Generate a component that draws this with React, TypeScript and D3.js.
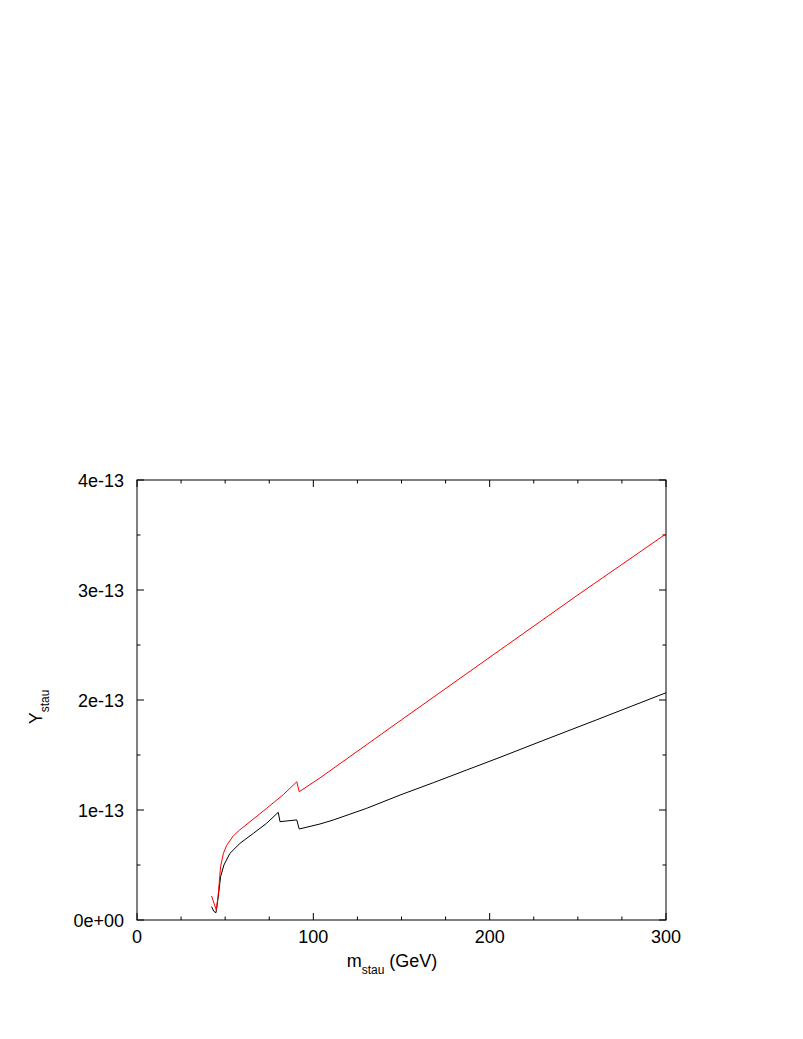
import React, {useEffect, useRef} from 'react'
import * as d3 from 'd3'

// values, Y in units of 1e-13
const redMass = [42.3, 45.0, 46.1, 47.4, 49.0, 50.9, 54.6, 58, 64.1, 73.5, 83, 90.6, 92, 103.8, 150, 205.9, 250, 300]
const redY = [0.218, 0.09, 0.24, 0.485, 0.606, 0.68, 0.764, 0.815, 0.894, 1.015, 1.14, 1.257, 1.166, 1.292, 1.82, 2.455, 2.955, 3.51]

const blackMass = [42.3, 43.5, 44.8, 46.1, 47.4, 49.3, 52.7, 58.4, 66, 73.5, 80.1, 81.1, 90.6, 92, 103.8, 111.3, 130.2, 149.2, 168, 187, 205.9, 230, 260.7, 300]
const blackY = [0.121, 0.08, 0.066, 0.212, 0.394, 0.5, 0.606, 0.697, 0.788, 0.879, 0.979, 0.894, 0.91, 0.827, 0.873, 0.909, 1.015, 1.136, 1.248, 1.364, 1.479, 1.63, 1.82, 2.066]

const xTicks = [0, 100, 200, 300]
const xTickLabels = ['0', '100', '200', '300']
const yTicks = [0, 1e-13, 2e-13, 3e-13, 4e-13]
const yTickLabels = ['0e+00', '1e-13', '2e-13', '3e-13', '4e-13']

const W = 803
const H = 1039
const font = '"Liberation Sans", Arial, Helvetica, sans-serif'

export default function App() {
  const ref = useRef<SVGSVGElement>(null)

  useEffect(() => {
    const svg = d3.select(ref.current)
    svg.selectAll('*').remove()

    const x = d3.scaleLinear().domain([0, 300]).range([137, 666])
    const y = d3.scaleLinear().domain([0, 4e-13]).range([920, 480])
    const [x0, x1] = x.range()
    const [y0, y1] = y.range()

    const g = svg.append('g')

    // frame
    g.append('rect')
      .attr('x', x0)
      .attr('y', y1)
      .attr('width', x1 - x0)
      .attr('height', y0 - y1)
      .attr('fill', 'none')
      .attr('stroke', '#000')
      .attr('stroke-width', 1)

    const xMinor = d3.range(0, 301, 25)
    const yMinor = d3.range(0, 4.01e-13, 0.5e-13)
    const tick = (major: boolean) => (major ? 7 : 3.5)

    xMinor.forEach((v, i) => {
      const len = tick(i % 4 === 0)
      g.append('line').attr('x1', x(v)).attr('x2', x(v)).attr('y1', y0).attr('y2', y0 - len).attr('stroke', '#000')
      g.append('line').attr('x1', x(v)).attr('x2', x(v)).attr('y1', y1).attr('y2', y1 + len).attr('stroke', '#000')
    })
    yMinor.forEach((v, i) => {
      const len = tick(i % 2 === 0)
      g.append('line').attr('x1', x0).attr('x2', x0 + len).attr('y1', y(v)).attr('y2', y(v)).attr('stroke', '#000')
      g.append('line').attr('x1', x1).attr('x2', x1 - len).attr('y1', y(v)).attr('y2', y(v)).attr('stroke', '#000')
    })

    // tick labels
    g.selectAll('text.xt')
      .data(xTicks)
      .join('text')
      .attr('class', 'xt')
      .attr('x', (d) => x(d))
      .attr('y', 943)
      .attr('text-anchor', 'middle')
      .attr('font-family', font)
      .attr('font-size', 18)
      .text((d, i) => xTickLabels[i])

    g.selectAll('text.yt')
      .data(yTicks)
      .join('text')
      .attr('class', 'yt')
      .attr('x', 124)
      .attr('y', (d) => y(d) + 6.5)
      .attr('text-anchor', 'end')
      .attr('font-family', font)
      .attr('font-size', 18)
      .text((d, i) => yTickLabels[i])

    // axis titles
    const xl = g.append('text')
      .attr('x', 392)
      .attr('y', 967)
      .attr('text-anchor', 'middle')
      .attr('font-family', font)
      .attr('font-size', 18)
    xl.append('tspan').text('m')
    xl.append('tspan').attr('font-size', 12).attr('dy', 7).text('stau')
    xl.append('tspan').attr('dy', -7).text(' (GeV)')

    const yl = g.append('text')
      .attr('transform', 'translate(42,707) rotate(-90)')
      .attr('text-anchor', 'middle')
      .attr('font-family', font)
      .attr('font-size', 18)
    yl.append('tspan').text('Y')
    yl.append('tspan').attr('font-size', 12).attr('dy', 7).text('stau')

    // curves
    const line = d3
      .line<[number, number]>()
      .x((d) => x(d[0]))
      .y((d) => y(d[1] * 1e-13))

    g.append('path')
      .attr('d', line(blackMass.map((m, i) => [m, blackY[i]])))
      .attr('fill', 'none')
      .attr('stroke', '#000')
      .attr('stroke-width', 1)

    g.append('path')
      .attr('d', line(redMass.map((m, i) => [m, redY[i]])))
      .attr('fill', 'none')
      .attr('stroke', '#ff0000')
      .attr('stroke-width', 1)
  }, [])

  return (
    <svg
      ref={ref}
      width={W}
      height={H}
      style={{position: 'absolute', left: 0, top: 0, background: '#fff'}}
    />
  )
}
